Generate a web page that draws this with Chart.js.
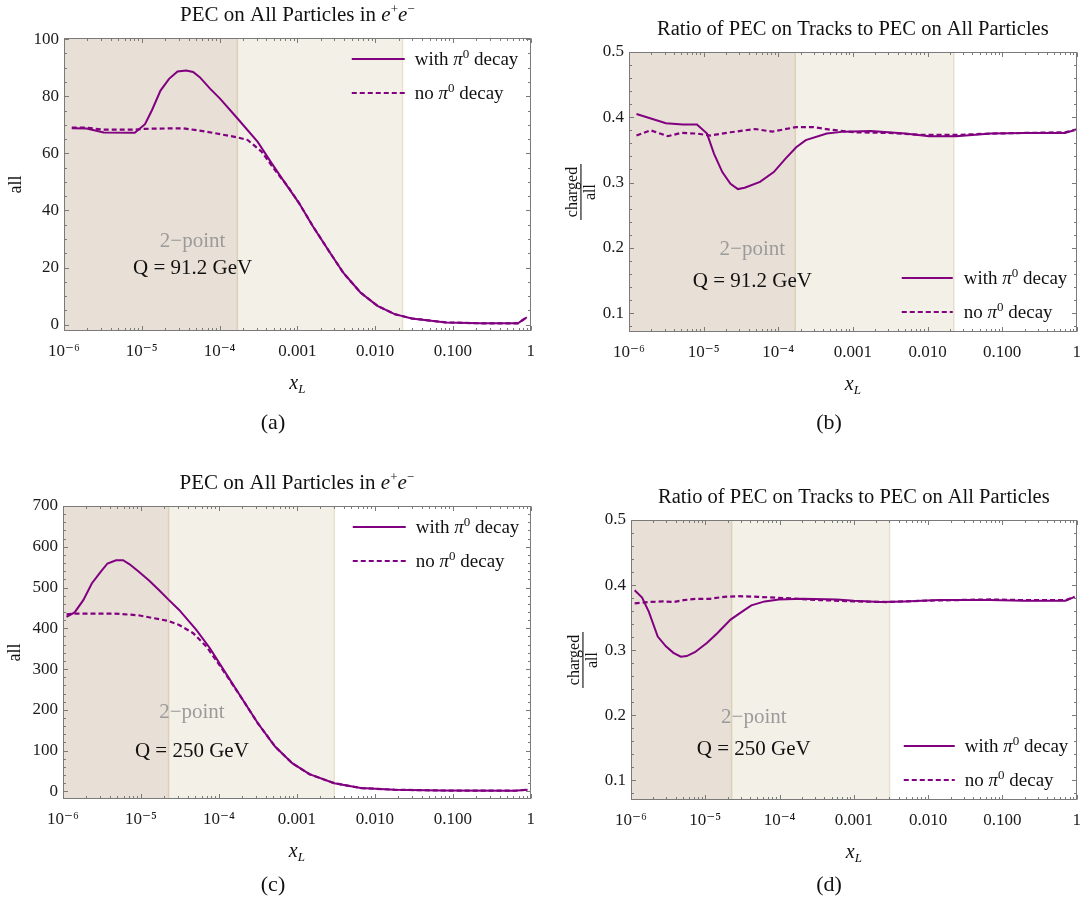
<!DOCTYPE html>
<html>
<head>
<meta charset="utf-8">
<script src="https://cdn.jsdelivr.net/npm/chart.js@4.4.1/dist/chart.umd.min.js"></script>
<style>
  html, body { margin: 0; padding: 0; background: #fff; }
  #page { position: relative; width: 1091px; height: 901px; overflow: hidden; }
  canvas { position: absolute; }
  .cap { position: absolute; font: 22px "Liberation Serif", "DejaVu Serif", serif; color: #111;
         transform: translate(-50%, -50%); white-space: nowrap; }
</style>
</head>
<body>
<div id="page">
  <canvas id="cA" width="545" height="440" style="left:0;top:0"></canvas>
  <canvas id="cB" width="546" height="440" style="left:545px;top:0"></canvas>
  <canvas id="cC" width="545" height="461" style="left:0;top:440px"></canvas>
  <canvas id="cD" width="546" height="461" style="left:545px;top:440px"></canvas>
  <div class="cap" style="left:273px;top:422px">(a)</div>
  <div class="cap" style="left:829px;top:422px">(b)</div>
  <div class="cap" style="left:273px;top:884px">(c)</div>
  <div class="cap" style="left:829px;top:884px">(d)</div>
</div>
<script>
// ---- data ----
const xTickValues = [1e-6, 1e-5, 1e-4, 1e-3, 1e-2, 1e-1, 1];
const xTickLabels = ['10\u207B\u2076', '10\u207B\u2075', '10\u207B\u2074', '0.001', '0.010', '0.100', '1'];

// (a) all particles, Q = 91.2 GeV
const xA_with = [1.26e-6, 1.95e-6, 3.24e-6, 8.13e-6, 1.10e-5, 1.35e-5, 1.74e-5, 2.24e-5, 2.88e-5, 3.72e-5,
  4.57e-5, 5.56e-5, 7.59e-5, 1.02e-4, 1.70e-4, 3.09e-4, 4.68e-4, 7.0e-4, 1.05e-3, 1.58e-3,
  2.63e-3, 3.89e-3, 6.46e-3, 1.07e-2, 1.78e-2, 2.95e-2, 8.13e-2, 0.224, 0.684, 0.891];
const yA_with = [68.8, 68.7, 67.3, 67.2, 70.2, 75.1, 82.0, 86.1, 88.7, 89.0,
  88.5, 86.7, 82.6, 79.1, 72.2, 64.0, 56.5, 49.5, 42.6, 34.5,
  25.2, 18.2, 11.3, 6.6, 3.7, 2.2, 0.8, 0.5, 0.5, 2.6];
const xA_no = [1.26e-6, 1.95e-6, 3.24e-6, 8.13e-6, 1.10e-5, 3.39e-5, 6.8e-5, 1.69e-4, 2.29e-4, 3.47e-4,
  5.13e-4, 7.6e-4, 1.05e-3, 1.58e-3, 2.63e-3, 3.89e-3, 6.46e-3, 1.07e-2, 1.78e-2, 2.95e-2,
  8.13e-2, 0.224, 0.684, 0.891];
const yA_no = [69.0, 69.0, 68.3, 68.3, 68.6, 68.8, 67.6, 65.6, 64.7, 60.6,
  54.2, 48.3, 42.6, 34.5, 25.2, 18.2, 11.3, 6.6, 3.7, 2.2,
  0.8, 0.5, 0.5, 2.6];
const yTicksA = [0, 20, 40, 60, 80, 100];
const shadeA = [1.69e-4, 0.0225];

// (b) charged / all, Q = 91.2 GeV
const xB_with = [1.26e-6, 3.13e-6, 5.25e-6, 8.13e-6, 1.11e-5, 1.38e-5, 1.78e-5, 2.29e-5, 2.88e-5, 3.55e-5,
  5.69e-5, 8.71e-5, 1.26e-4, 1.74e-4, 2.34e-4, 4.47e-4, 7.59e-4, 1.74e-3, 5.01e-3, 1.05e-2,
  2.45e-2, 7.08e-2, 0.204, 0.692, 0.977];
const yB_with = [0.405, 0.391, 0.389, 0.389, 0.375, 0.344, 0.316, 0.298, 0.290, 0.292,
  0.301, 0.316, 0.337, 0.354, 0.365, 0.375, 0.378, 0.379, 0.375, 0.371,
  0.371, 0.375, 0.376, 0.376, 0.381];
const xB_no = [1.26e-6, 1.95e-6, 3.31e-6, 5.01e-6, 8.13e-6, 1.23e-5, 2.29e-5, 4.90e-5, 8.32e-5, 1.74e-4,
  2.95e-4, 5.01e-4, 1.05e-3, 3.02e-3, 8.51e-3, 2.45e-2, 7.08e-2, 0.204, 0.692, 0.977];
const yB_no = [0.372, 0.380, 0.371, 0.376, 0.375, 0.372, 0.377, 0.382, 0.378, 0.385,
  0.385, 0.381, 0.377, 0.376, 0.373, 0.373, 0.375, 0.376, 0.377, 0.381];
const yTicksRatio = [0.1, 0.2, 0.3, 0.4, 0.5];
const shadeB = [1.69e-4, 0.0225];

// (c) all particles, Q = 250 GeV
const xC_with = [1.11e-6, 1.41e-6, 1.82e-6, 2.34e-6, 3.02e-6, 3.72e-6, 4.79e-6, 5.89e-6, 7.16e-6, 9.23e-6,
  1.26e-5, 1.70e-5, 2.24e-5, 3.09e-5, 5.13e-5, 7.67e-5, 1.15e-4, 1.91e-4, 3.16e-4, 5.25e-4,
  8.71e-4, 1.45e-3, 3.02e-3, 6.61e-3, 1.78e-2, 7.24e-2, 0.617, 0.912];
const yC_with = [428, 439, 469, 510, 538, 559, 567, 567, 557, 540,
  518, 494, 471, 445, 396, 351, 298, 232, 167, 110,
  69, 42, 20, 8, 4, 2, 1.5, 4];
const xC_no = [1.11e-6, 1.41e-6, 2.24e-6, 4.57e-6, 9.23e-6, 2.24e-5, 3.09e-5, 4.68e-5, 6.92e-5, 1.05e-4,
  1.91e-4, 3.16e-4, 5.25e-4, 8.71e-4, 1.45e-3, 3.02e-3, 6.61e-3, 1.78e-2, 7.24e-2, 0.617, 0.912];
const yC_no = [434, 436, 436, 436, 432, 418, 408, 388, 355, 306,
  232, 167, 110, 69, 42, 20, 8, 4, 2, 1.5, 4];
const yTicksC = [0, 100, 200, 300, 400, 500, 600, 700];
const shadeC = [2.26e-5, 3.02e-3];

// (d) charged / all, Q = 250 GeV
const xD_with = [1.12e-6, 1.41e-6, 1.74e-6, 2.29e-6, 2.95e-6, 3.72e-6, 4.68e-6, 5.62e-6, 7.24e-6, 1.05e-5,
  1.45e-5, 2.19e-5, 3.39e-5, 4.17e-5, 6.31e-5, 9.77e-5, 2.04e-4, 5.89e-4, 1.0e-3, 2.29e-3,
  4.79e-3, 1.38e-2, 6.76e-2, 0.195, 0.708, 0.933];
const yD_with = [0.392, 0.381, 0.359, 0.321, 0.306, 0.296, 0.290, 0.291, 0.297, 0.311,
  0.326, 0.347, 0.362, 0.369, 0.375, 0.378, 0.379, 0.378, 0.376, 0.374,
  0.375, 0.377, 0.377, 0.376, 0.376, 0.382];
const xD_no = [1.12e-6, 1.74e-6, 2.69e-6, 3.72e-6, 5.13e-6, 7.59e-6, 1.15e-5, 1.78e-5, 2.75e-5, 5.13e-5,
  1.20e-4, 3.47e-4, 1.0e-3, 2.82e-3, 8.13e-3, 2.34e-2, 6.76e-2, 0.195, 0.708, 0.933];
const yD_no = [0.372, 0.374, 0.375, 0.374, 0.377, 0.379, 0.379, 0.382, 0.383, 0.382,
  0.380, 0.377, 0.375, 0.374, 0.376, 0.377, 0.378, 0.377, 0.377, 0.382];
const shadeD = [2.26e-5, 3.02e-3];

// ---- styling ----
const PURPLE = 'rgb(128,0,128)';
const SERIF = '"Liberation Serif", "DejaVu Serif", serif';
const FRAME = '#7a7a7a';
const f = (size, style) => `${style || ''} ${size}px ${SERIF}`;

const toXY = (xs, ys) => xs.map((x, i) => ({ x, y: ys[i] }));

// draw a row of text pieces with their own fonts / vertical offsets
function drawRuns(ctx, runs, x, y, align) {
  let w = 0;
  runs.forEach(r => { ctx.font = r[1]; w += ctx.measureText(r[0]).width; });
  let cx = align === 'center' ? x - w / 2 : (align === 'right' ? x - w : x);
  ctx.textAlign = 'left';
  runs.forEach(r => {
    ctx.font = r[1];
    ctx.fillText(r[0], cx, y + (r[2] || 0));
    cx += ctx.measureText(r[0]).width;
  });
}

const titleAll = [['PEC on All Particles in ', f(21)], ['e', f(21, 'italic')], ['+', f(13), -8],
  ['e', f(21, 'italic')], ['\u2212', f(13), -8]];
const titleRatio = [['Ratio of PEC on Tracks to PEC on All Particles', f(20.5)]];
const legWith = [['with ', f(19)], ['\u03C0', f(19, 'italic')], ['0', f(13), -7], [' decay', f(19)]];
const legNo = [['no ', f(19)], ['\u03C0', f(19, 'italic')], ['0', f(13), -7], [' decay', f(19)]];

function decorPlugin(cfg) {
  return {
    id: 'decor',
    beforeDatasetsDraw(chart) {
      const { ctx, chartArea: a, scales: { x } } = chart;
      const b1 = x.getPixelForValue(cfg.shade[0]);
      const b2 = x.getPixelForValue(cfg.shade[1]);
      ctx.save();
      ctx.fillStyle = 'rgb(243,240,232)';
      ctx.fillRect(a.left, a.top, b2 - a.left, a.bottom - a.top);
      ctx.fillStyle = 'rgb(232,223,214)';
      ctx.fillRect(a.left, a.top, b1 - a.left, a.bottom - a.top);
      ctx.lineWidth = 1.5;
      ctx.strokeStyle = 'rgb(220,208,184)';
      ctx.beginPath(); ctx.moveTo(b1, a.top); ctx.lineTo(b1, a.bottom); ctx.stroke();
      ctx.strokeStyle = 'rgb(232,225,204)';
      ctx.beginPath(); ctx.moveTo(b2, a.top); ctx.lineTo(b2, a.bottom); ctx.stroke();
      ctx.restore();
    },
    afterDatasetsDraw(chart) {
      const { ctx, chartArea: a, scales: { x, y } } = chart;
      ctx.save();
      ctx.strokeStyle = FRAME;
      ctx.lineWidth = 1;
      const L = Math.round(a.left) + 0.5, R = Math.round(a.right) - 0.5;
      const T = Math.round(a.top) + 0.5, B = Math.round(a.bottom) - 0.5;
      ctx.strokeRect(L, T, R - L, B - T);
      ctx.beginPath();
      // x ticks, bottom and top
      const xt = (v, len) => {
        const px = Math.round(x.getPixelForValue(v)) + 0.5;
        ctx.moveTo(px, B); ctx.lineTo(px, B - len);
        ctx.moveTo(px, T); ctx.lineTo(px, T + len);
      };
      xTickValues.forEach(v => xt(v, 4.5));
      for (let d = 1e-6; d < 0.5; d *= 10) {
        for (let k = 2; k <= 9; k++) xt(k * d, 2.5);
      }
      // y ticks, left and right
      const yt = (v, len) => {
        const py = Math.round(y.getPixelForValue(v)) + 0.5;
        ctx.moveTo(L, py); ctx.lineTo(L + len, py);
        ctx.moveTo(R, py); ctx.lineTo(R - len, py);
      };
      const n = Math.round((y.max - y.min) / cfg.yMinor) + 2;
      const start = Math.ceil(y.min / cfg.yMinor - 1e-9);
      for (let i = start; i < start + n; i++) {
        const v = i * cfg.yMinor;
        if (v < y.min || v > y.max + 1e-9) continue;
        const isMajor = cfg.yTicks.some(t => Math.abs(t - v) < cfg.yMinor / 10);
        yt(v, isMajor ? 4.5 : 2.5);
      }
      ctx.stroke();
      ctx.restore();
    },
    afterDraw(chart) {
      const { ctx, chartArea: a, scales: { x, y } } = chart;
      const cxm = (a.left + a.right) / 2, cym = (a.top + a.bottom) / 2;
      ctx.save();
      ctx.fillStyle = '#111';
      ctx.textBaseline = 'alphabetic';
      // title
      drawRuns(ctx, cfg.title, cxm, a.top - 17.5, 'center');
      // x axis label: x_L
      drawRuns(ctx, [['x', f(20, 'italic')], ['L', f(13, 'italic'), 4]], cxm, a.bottom + 58, 'center');
      // y axis label
      ctx.save();
      if (cfg.ratio) {
        const bx = a.left - 48;
        ctx.translate(bx, cym);
        ctx.rotate(-Math.PI / 2);
        ctx.textAlign = 'center';
        ctx.font = f(16);
        ctx.textBaseline = 'alphabetic';
        ctx.fillText('charged', 0, -4);
        ctx.fillText('all', 0, 14);
        ctx.fillRect(-28, -0.6, 56, 1.1);
      } else {
        ctx.translate(a.left - 48, cym);
        ctx.rotate(-Math.PI / 2);
        ctx.textAlign = 'center';
        ctx.textBaseline = 'middle';
        ctx.font = f(18);
        ctx.fillText('all', 0, 0);
      }
      ctx.restore();
      // annotations
      ctx.textAlign = 'center';
      ctx.textBaseline = 'middle';
      ctx.font = f(21);
      ctx.fillStyle = '#9b9b9b';
      ctx.fillText('2\u2212point', x.getPixelForValue(cfg.note.x), y.getPixelForValue(cfg.note.y[0]));
      ctx.fillStyle = '#111';
      ctx.fillText(cfg.note.text, x.getPixelForValue(cfg.note.x), y.getPixelForValue(cfg.note.y[1]));
      // legend
      const lg = cfg.legend;
      const rows = lg.top ? [a.top + 21, a.top + 55] : [a.bottom - 54, a.bottom - 20];
      const x0 = a.right - lg.line[0], x1 = a.right - lg.line[1], tx = a.right - lg.text;
      ctx.strokeStyle = PURPLE;
      ctx.lineWidth = 2;
      ctx.beginPath(); ctx.moveTo(x0, rows[0]); ctx.lineTo(x1, rows[0]); ctx.stroke();
      ctx.setLineDash([5, 3]);
      ctx.lineWidth = 2.2;
      ctx.beginPath(); ctx.moveTo(x0, rows[1]); ctx.lineTo(x1, rows[1]); ctx.stroke();
      ctx.setLineDash([]);
      ctx.textBaseline = 'alphabetic';
      ctx.fillStyle = '#111';
      drawRuns(ctx, legWith, tx, rows[0] + 6, 'left');
      drawRuns(ctx, legNo, tx, rows[1] + 6, 'left');
      ctx.restore();
    }
  };
}

function makeChart(id, cfg) {
  const canvas = document.getElementById(id);
  const W = canvas.width, H = canvas.height;
  const fr = cfg.frame; // left, top, right, bottom inside the canvas
  return new Chart(canvas, {
    type: 'line',
    data: {
      datasets: [
        { data: cfg.withData, borderColor: PURPLE, borderWidth: 2, pointRadius: 0, tension: 0, fill: false },
        { data: cfg.noData, borderColor: PURPLE, borderWidth: 2.2, borderDash: [5, 3], pointRadius: 0, tension: 0, fill: false }
      ]
    },
    options: {
      responsive: false,
      animation: false,
      events: [],
      layout: { padding: { left: 0, top: fr[1], right: W - fr[2], bottom: 0 } },
      plugins: { legend: { display: false }, tooltip: { enabled: false }, title: { display: false } },
      scales: {
        x: {
          type: 'logarithmic',
          min: 1e-6,
          max: 1,
          grid: { display: false, drawTicks: false },
          border: { display: false },
          afterBuildTicks: s => { s.ticks = xTickValues.map(v => ({ value: v })); },
          afterFit: s => { s.height = H - fr[3]; },
          ticks: {
            autoSkip: false,
            maxRotation: 0,
            padding: 10,
            color: '#1a1a1a',
            font: { family: SERIF, size: 17 },
            callback: v => xTickLabels[xTickValues.indexOf(v)]
          }
        },
        y: {
          type: 'linear',
          min: cfg.yRange[0],
          max: cfg.yRange[1],
          grid: { display: false, drawTicks: false },
          border: { display: false },
          afterBuildTicks: s => { s.ticks = cfg.yTicks.map(v => ({ value: v })); },
          afterFit: s => { s.width = fr[0]; },
          ticks: {
            padding: 5,
            color: '#1a1a1a',
            font: { family: SERIF, size: 17 },
            callback: v => cfg.ratio ? v.toFixed(1) : String(v)
          }
        }
      }
    },
    plugins: [decorPlugin(cfg)]
  });
}

makeChart('cA', {
  frame: [64, 38, 537, 331],
  yRange: [-2.2, 100.4], yTicks: yTicksA, yMinor: 5,
  withData: toXY(xA_with, yA_with), noData: toXY(xA_no, yA_no),
  shade: shadeA, title: titleAll, ratio: false,
  note: { x: 4.5e-5, y: [29.3, 19.8], text: 'Q = 91.2 GeV' },
  legend: { top: true, line: [179, 126], text: 116 }
});
makeChart('cB', {
  frame: [84, 52, 540, 332],
  yRange: [0.071, 0.5], yTicks: yTicksRatio, yMinor: 0.02,
  withData: toXY(xB_with, yB_with), noData: toXY(xB_no, yB_no),
  shade: shadeB, title: titleRatio, ratio: true,
  note: { x: 4.5e-5, y: [0.198, 0.148], text: 'Q = 91.2 GeV' },
  legend: { top: false, line: [175, 124], text: 113 }
});
makeChart('cC', {
  frame: [63, 66, 537, 359],
  yRange: [-18.8, 700], yTicks: yTicksC, yMinor: 20,
  withData: toXY(xC_with, yC_with), noData: toXY(xC_no, yC_no),
  shade: shadeC, title: titleAll, ratio: false,
  note: { x: 4.5e-5, y: [194, 98], text: 'Q = 250 GeV' },
  legend: { top: true, line: [178, 125], text: 115 }
});
makeChart('cD', {
  frame: [86, 80, 540, 360],
  yRange: [0.070, 0.5], yTicks: yTicksRatio, yMinor: 0.02,
  withData: toXY(xD_with, yD_with), noData: toXY(xD_no, yD_no),
  shade: shadeD, title: titleRatio, ratio: true,
  note: { x: 4.5e-5, y: [0.197, 0.147], text: 'Q = 250 GeV' },
  legend: { top: false, line: [173, 122], text: 112 }
});
</script>
</body>
</html>
